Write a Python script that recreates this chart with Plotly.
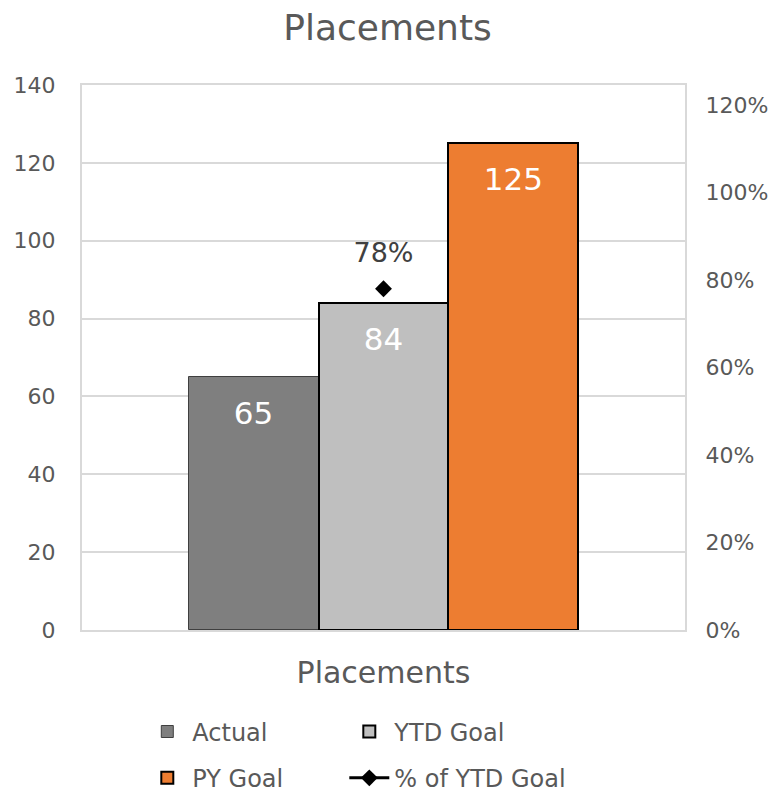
import plotly.graph_objects as go

# ---- data ----
series = ["Actual", "YTD Goal", "PY Goal"]
values = [65, 84, 125]
bar_colors = ["#7f7f7f", "#bfbfbf", "#ed7d31"]
pct_name = "% of YTD Goal"
pct_value = [0.78]
pct_label = ["78%"]
left_ticks = [0, 20, 40, 60, 80, 100, 120, 140]
right_ticks = [0, 0.2, 0.4, 0.6, 0.8, 1.0, 1.2]
category_title = "Placements"
chart_title = "Placements"

FONT = "DejaVu Sans"
TXT = "#595959"

fig = go.Figure()

legend_for = {"Actual": "legend", "YTD Goal": "legend2", "PY Goal": "legend3"}
border_w = {"Actual": 1, "YTD Goal": 2, "PY Goal": 2}
border_c = {"Actual": "#3f3f3f", "YTD Goal": "#000000", "PY Goal": "#000000"}

for name, val, col in zip(series, values, bar_colors):
    fig.add_trace(go.Bar(
        x=[name], y=[val], name=name, width=1,
        marker=dict(color=col, line=dict(color=border_c[name], width=border_w[name])),
        legend=legend_for[name],
    ))

# data labels inside bars
fig.add_trace(go.Scatter(
    x=series, y=values, mode="markers+text", text=[str(v) for v in values],
    textposition="bottom center",
    textfont=dict(family=FONT, size=31, color="#ffffff"),
    marker=dict(size=36, opacity=0), showlegend=False, hoverinfo="skip",
))

# % of YTD goal (secondary axis)
fig.add_trace(go.Scatter(
    x=["YTD Goal"], y=pct_value, yaxis="y2", name=pct_name,
    mode="lines+markers",
    line=dict(color="#000000", width=3),
    marker=dict(symbol="diamond", size=13, color="#000000"),
    legend="legend4",
))
fig.add_trace(go.Scatter(
    x=["YTD Goal"], y=pct_value, yaxis="y2", mode="markers+text", text=pct_label,
    textposition="top center",
    textfont=dict(family=FONT, size=27, color="#404040"),
    marker=dict(size=30, opacity=0), showlegend=False, hoverinfo="skip",
))

legend_common = dict(
    orientation="h", xanchor="left", yanchor="middle",
    font=dict(family=FONT, size=24, color=TXT),
    bgcolor="rgba(0,0,0,0)", itemwidth=40,
)
col1, col2 = 0.1, 0.435
row1, row2 = -0.187, -0.272

fig.update_layout(
    width=775, height=792,
    margin=dict(l=82, r=90, t=85, b=162, autoexpand=False),
    paper_bgcolor="#ffffff", plot_bgcolor="#ffffff",
    font=dict(family=FONT, color=TXT),
    barmode="overlay", bargap=0,
    title=dict(text=chart_title, x=0.5, xanchor="center", y=0.965, yanchor="middle",
               yref="container", font=dict(family=FONT, size=36, color=TXT)),
    xaxis=dict(
        type="category", categoryorder="array", categoryarray=series,
        range=[-1.32, 3.32], showticklabels=False, ticks="",
        showline=True, mirror=True, linecolor="#d9d9d9", linewidth=2,
        showgrid=False, zeroline=False,
        title=dict(text=category_title, font=dict(family=FONT, size=30, color=TXT), standoff=31),
    ),
    yaxis=dict(
        range=[0, 140], tickvals=left_ticks, ticks="", showline=True, linecolor="#d9d9d9",
        linewidth=2, gridcolor="#d9d9d9", gridwidth=1.5, zeroline=False,
        tickfont=dict(family=FONT, size=22, color=TXT), ticklabelstandoff=20,
    ),
    yaxis2=dict(
        overlaying="y", side="right", range=[0, 1.2457], tickvals=right_ticks,
        tickformat=".0%", showgrid=False, zeroline=False, ticks="",
        showline=True, linecolor="#d9d9d9", linewidth=2,
        tickfont=dict(family=FONT, size=22, color=TXT), ticklabelstandoff=14,
    ),
    legend=dict(legend_common, x=col1, y=row1),
    legend2=dict(legend_common, x=col2, y=row1),
    legend3=dict(legend_common, x=col1, y=row2),
    legend4=dict(legend_common, x=col2, y=row2),
)

fig.write_html("out.html")
